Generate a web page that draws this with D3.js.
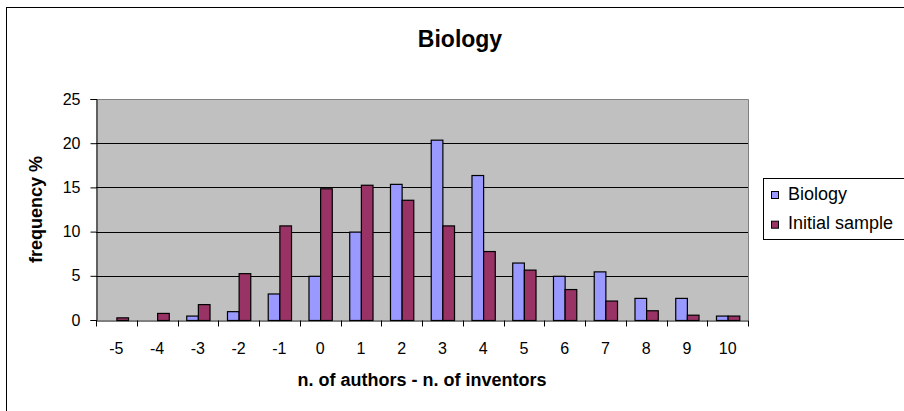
<!DOCTYPE html>
<html>
<head>
<meta charset="utf-8">
<script src="https://cdn.jsdelivr.net/npm/d3@7"></script>
<style>
	body { margin: 0; background: #fff; }
	text { font-family: Arial, "Liberation Sans", sans-serif; }
</style>
</head>
<body>
<svg id="chart"></svg>
<script>

var w = 904;
var h = 411;

// difference: n. of authors - n. of inventors
var categories = ['-5', '-4', '-3', '-2', '-1', '0', '1', '2', '3', '4', '5', '6', '7', '8', '9', '10'];
var series_names = ['Biology', 'Initial sample'];
var biology = [0, 0, 0.5, 1, 3, 5, 10, 15.4, 20.4, 16.4, 6.5, 5, 5.5, 2.5, 2.5, 0.5];
var initial_sample = [0.3, 0.8, 1.8, 5.3, 10.7, 14.9, 15.3, 13.6, 10.7, 7.8, 5.7, 3.5, 2.2, 1.1, 0.6, 0.5];
var y_ticks = [0, 5, 10, 15, 20, 25];
var colors = ['#9999ff', '#993366'];

var plot = {left: 96, right: 748, top: 99, bottom: 320};

var svg = d3.select('#chart')
	.attr('width', w)
	.attr('height', h);

// chart frame (runs off the right/bottom edge like the original)
svg.append('rect')
	.attr('x', 6.5)
	.attr('y', 7.5)
	.attr('width', 940)
	.attr('height', 440)
	.attr('fill', '#fff')
	.attr('stroke', '#000')
	.attr('stroke-width', 1);

var x0 = d3.scaleBand()
	.domain(categories)
	.range([plot.left, plot.right])
	.padding(0);

var x1 = d3.scaleBand()
	.domain(series_names)
	.range([0, x0.bandwidth()])
	.paddingInner(0)
	.paddingOuter(0.75);

var y = d3.scaleLinear()
	.domain([0, 25])
	.range([plot.bottom, plot.top]);

// plot background
svg.append('rect')
	.attr('x', plot.left)
	.attr('y', plot.top)
	.attr('width', plot.right - plot.left)
	.attr('height', plot.bottom - plot.top)
	.attr('fill', '#c0c0c0');

// gridlines
svg.append('g')
	.selectAll('line')
	.data(y_ticks.filter(d => d > 0))
	.enter()
	.append('line')
	.attr('x1', plot.left)
	.attr('x2', plot.right)
	.attr('y1', d => Math.round(y(d)) + 0.5)
	.attr('y2', d => Math.round(y(d)) + 0.5)
	.attr('stroke', '#000')
	.attr('stroke-width', 1);

// plot border top / right
svg.append('path')
	.attr('d', 'M' + plot.left + ',' + (plot.top + 0.5) + 'H' + (plot.right + 0.5) + 'V' + plot.bottom)
	.attr('fill', 'none')
	.attr('stroke', '#808080');

var table = categories.map(function(c, i) {
	return {cat: c, values: [biology[i], initial_sample[i]]};
});

var groups = svg.append('g')
	.selectAll('g')
	.data(table)
	.enter()
	.append('g')
	.attr('transform', d => 'translate(' + x0(d.cat) + ',0)');

groups.selectAll('rect')
	.data(d => d.values.map((v, j) => ({name: series_names[j], value: v, j: j})))
	.enter()
	.append('rect')
	.filter(d => d.value > 0)
	.attr('x', d => x1(d.name) + 0.5)
	.attr('y', d => y(d.value) + 0.5)
	.attr('width', x1.bandwidth())
	.attr('height', d => y(0) - y(d.value))
	.attr('fill', d => colors[d.j])
	.attr('stroke', '#000')
	.attr('stroke-width', 1.2);

// y axis
var yaxis = svg.append('g')
	.attr('transform', 'translate(' + (plot.left + 0.5) + ',0)')
	.call(d3.axisLeft(y).tickValues(y_ticks).tickSize(6).tickPadding(10).tickFormat(d3.format('d')));
yaxis.select('.domain').attr('stroke', '#000');
yaxis.selectAll('.tick line').attr('stroke', '#000');
yaxis.selectAll('text')
	.attr('font-size', 16)
	.attr('fill', '#000');

// x axis labels
var xaxis = svg.append('g')
	.attr('transform', 'translate(0,' + (plot.bottom + 0.5) + ')')
	.call(d3.axisBottom(x0).tickSize(0).tickPadding(22));
xaxis.select('.domain').attr('stroke', '#000');
xaxis.selectAll('text')
	.attr('font-size', 16)
	.attr('fill', '#000');

// x ticks sit between categories
var bounds = categories.map(c => x0(c)).concat([x0(categories[categories.length - 1]) + x0.step()]);
xaxis.selectAll('.bound')
	.data(bounds)
	.enter()
	.append('line')
	.attr('class', 'bound')
	.attr('x1', d => Math.round(d) + 0.5)
	.attr('x2', d => Math.round(d) + 0.5)
	.attr('y1', 0)
	.attr('y2', 6)
	.attr('stroke', '#000');

// titles
svg.append('text')
	.attr('x', 460)
	.attr('y', 47)
	.attr('text-anchor', 'middle')
	.attr('font-size', 23)
	.attr('font-weight', 'bold')
	.text('Biology');

svg.append('text')
	.attr('x', (plot.left + plot.right) / 2)
	.attr('y', 386)
	.attr('text-anchor', 'middle')
	.attr('font-size', 18)
	.attr('font-weight', 'bold')
	.text('n. of authors - n. of inventors');

svg.append('text')
	.attr('transform', 'translate(41.5,' + ((plot.top + plot.bottom) / 2) + ') rotate(-90)')
	.attr('text-anchor', 'middle')
	.attr('font-size', 18)
	.attr('font-weight', 'bold')
	.text('frequency %');

// legend
var legend = svg.append('g');
legend.append('rect')
	.attr('x', 763.5)
	.attr('y', 178.5)
	.attr('width', 200)
	.attr('height', 61)
	.attr('fill', '#fff')
	.attr('stroke', '#000');

var items = legend.selectAll('.item')
	.data(series_names)
	.enter()
	.append('g')
	.attr('class', 'item')
	.attr('transform', (d, i) => 'translate(771,' + (191 + i * 29.7) + ')');

items.append('rect')
	.attr('x', 0.5)
	.attr('y', 0.5)
	.attr('width', 7)
	.attr('height', 7)
	.attr('fill', (d, i) => colors[i])
	.attr('stroke', '#000');

items.append('text')
	.attr('x', 17)
	.attr('y', 8.5)
	.attr('font-size', 18)
	.text(d => d);

</script>
</body>
</html>
